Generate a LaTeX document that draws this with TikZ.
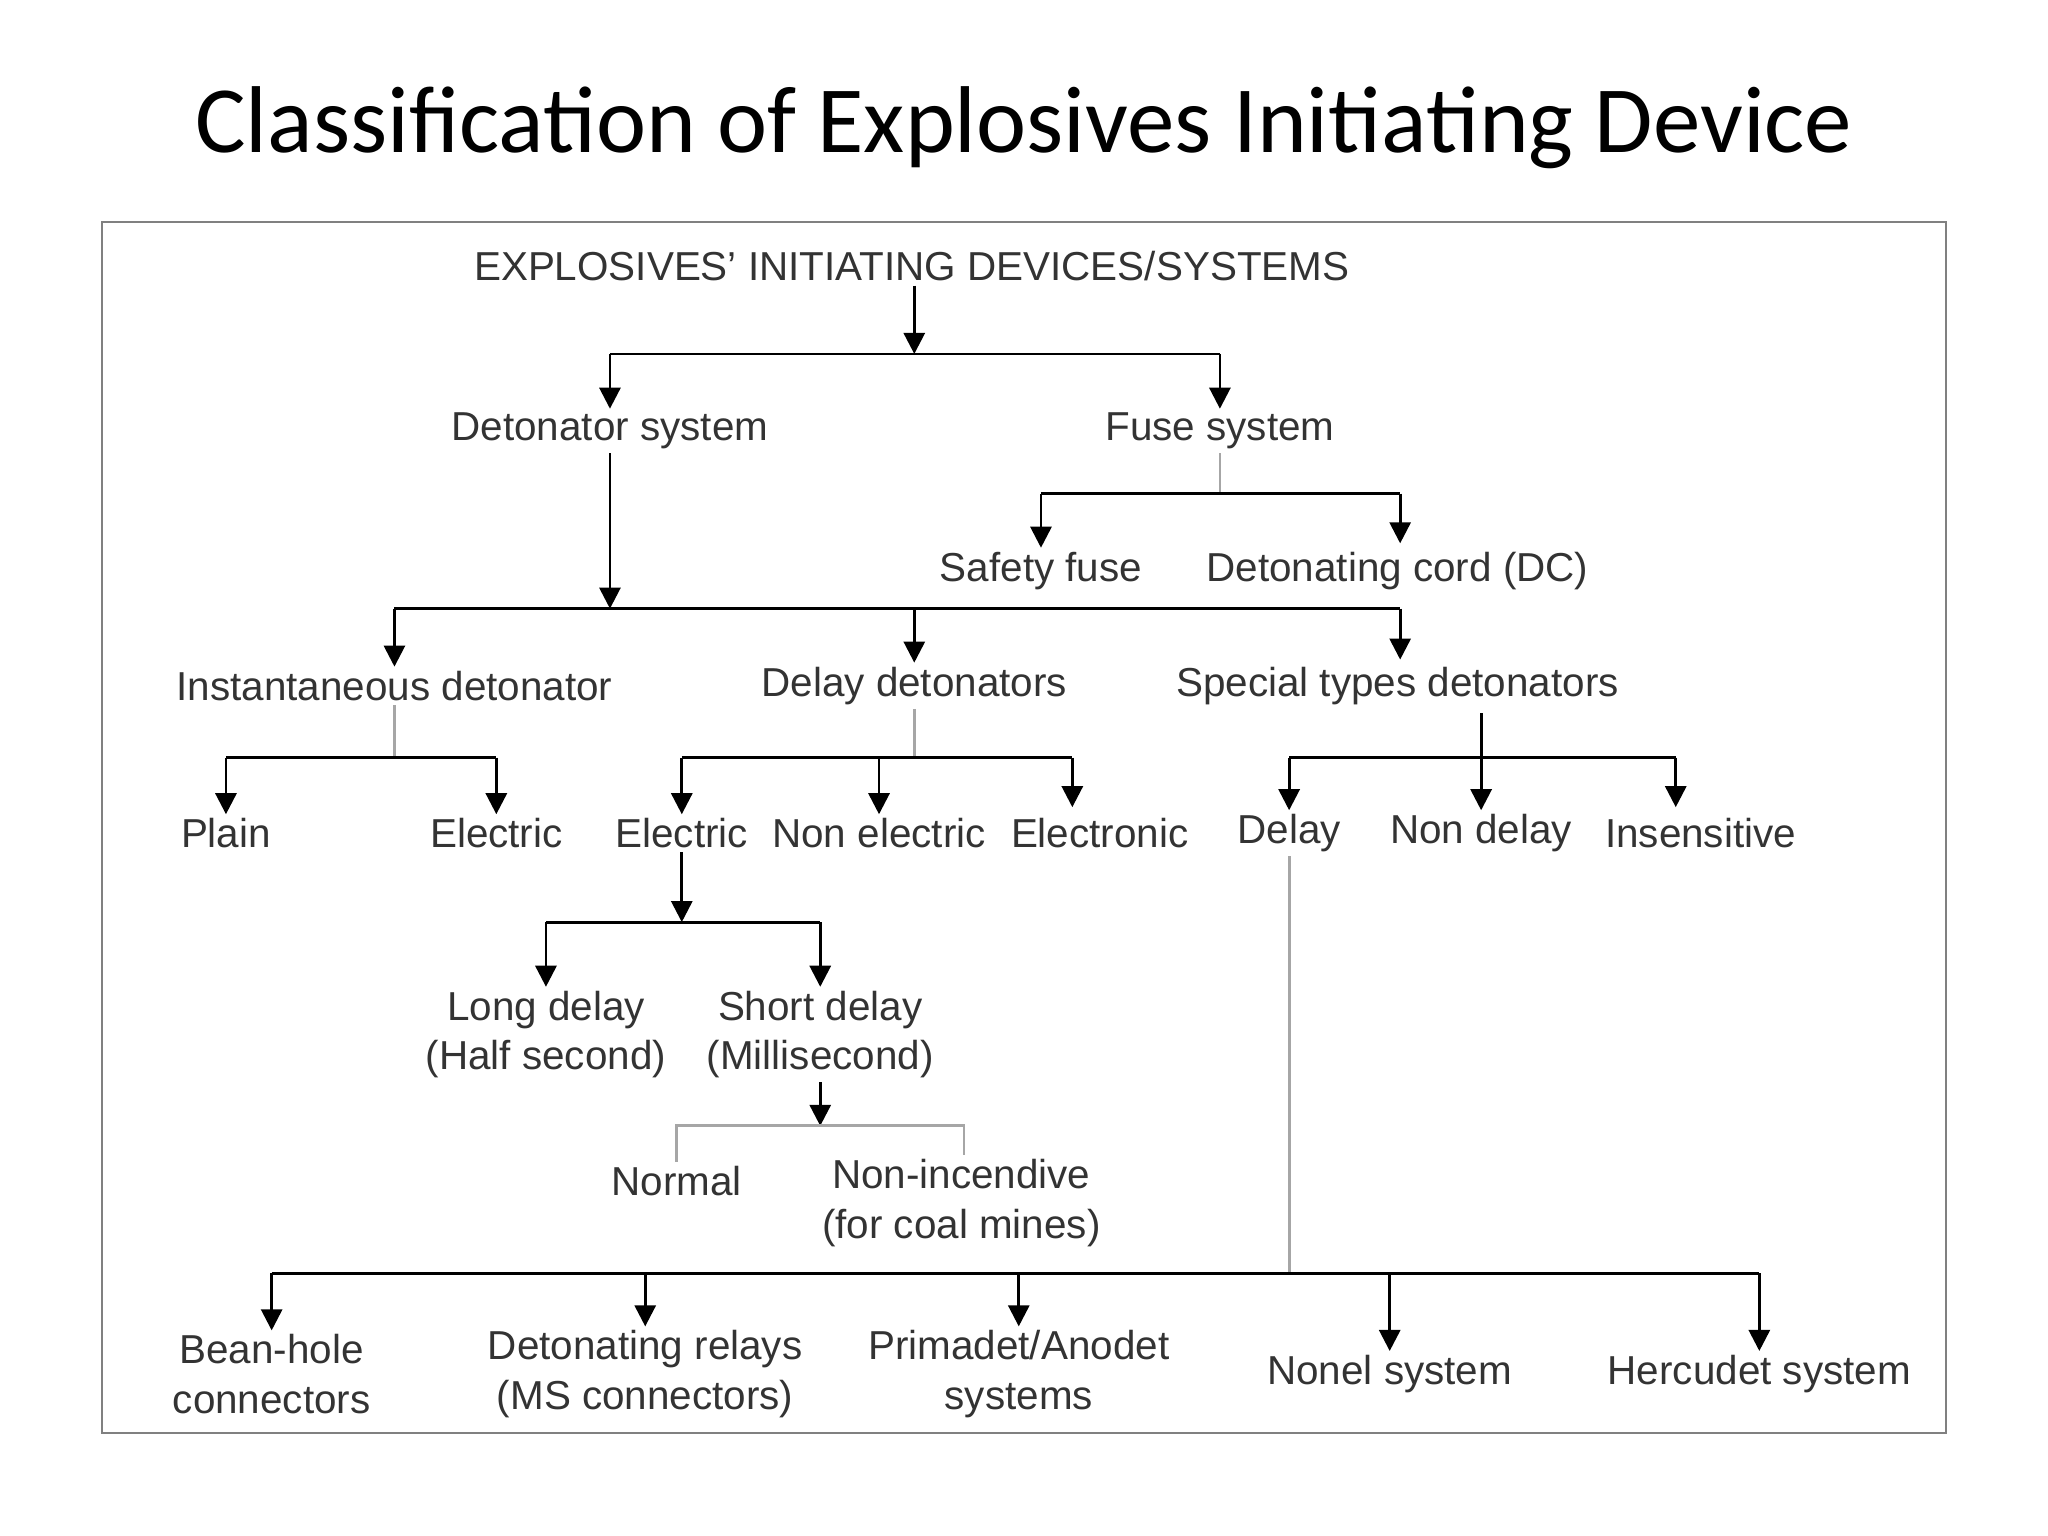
\documentclass[tikz,border=0pt]{standalone}
\usepackage{fontspec}
\setmainfont{Liberation Sans}
\newfontfamily\titlefont{Carlito}
\usetikzlibrary{arrows.meta, positioning}

\begin{document}
\begin{tikzpicture}[
    x=0.01306cm, y=-0.01306cm,
    lbl/.style={font=\fontsize{11.5}{14}\selectfont, text=black!80, align=center, inner sep=1pt},
    arrow/.style={-{Triangle[length=6pt,width=6pt]}, thick},
    link/.style={thick},
    faint/.style={thick, black!35}
]
    \useasboundingbox (0,0) rectangle (1568,1176);
    \node[font=\titlefont\fontsize{27}{30}\selectfont] (title) at (784,98) {Classification of Explosives Initiating Device};
    \draw[black!50] (78,170) rectangle (1490,1097);

    % levels
    \node[lbl] (root) at (698,204) {EXPLOSIVES’ INITIATING DEVICES/SYSTEMS};
    \node[lbl] (det) at (467,330) {Detonator system};
    \node[lbl] (fuse) at (934,330) {Fuse system};
    \node[lbl] (safety) at (797,437) {Safety fuse};
    \node[lbl] (cord) at (1070,437) {Detonating cord (DC)};
    \node[lbl] (inst) at (302,525) {Instantaneous detonator};
    \node[lbl] (delay) at (700,525) {Delay detonators};
    \node[lbl] (special) at (1070,525) {Special types detonators};
    \node[lbl] (plain) at (173,638) {Plain};
    \node[lbl] (ielec) at (380,638) {Electric};
    \node[lbl] (delec) at (522,638) {Electric};
    \node[lbl] (nonelec) at (673,638) {Non electric};
    \node[lbl] (electronic) at (842,638) {Electronic};
    \node[lbl] (sdelay) at (987,638) {Delay};
    \node[lbl] (nondelay) at (1134,638) {Non delay};
    \node[lbl] (insens) at (1302,638) {Insensitive};
    \node[lbl] (long) at (418,792) {Long delay\\(Half second)};
    \node[lbl] (short) at (628,792) {Short delay\\(Millisecond)};
    \node[lbl] (normal) at (518,904) {Normal};
    \node[lbl] (nonincend) at (736,921) {Non-incendive\\(for coal mines)};
    \node[lbl] (bean) at (208,1052) {Bean-hole\\connectors};
    \node[lbl] (relays) at (494,1052) {Detonating relays\\(MS connectors)};
    \node[lbl] (prima) at (780,1052) {Primadet/Anodet\\systems};
    \node[lbl] (nonel) at (1064,1052) {Nonel system};
    \node[lbl] (hercu) at (1347,1052) {Hercudet system};

    % bus points
    \coordinate (busroot) at (700,271);
    \coordinate (busfuse) at (934,378);
    \coordinate (busdet) at (467,466);
    \coordinate (businst) at (302,580);
    \coordinate (busdelay) at (700,580);
    \coordinate (busspec) at (1134,580);
    \coordinate (buselec) at (522,706);
    \coordinate (busshort) at (628,862);
    \coordinate (busbottom) at (987,975);

    \draw[arrow] (root.south -| busroot) -- (busroot);
    \draw[link] (det |- busroot) -- (fuse |- busroot);
    \draw[arrow] (det |- busroot) -- (det.north);
    \draw[arrow] (fuse |- busroot) -- (fuse.north);

    \draw[faint] (fuse.south) -- (busfuse);
    \draw[link] (safety |- busfuse) -- (1072,378);
    \draw[arrow] (safety |- busfuse) -- (safety.north);
    \draw[arrow] (1072,378) -- (1072,416);

    \draw[arrow] (det.south) -- (busdet);
    \draw[link] (inst |- busdet) -- (1072,466);
    \draw[arrow] (inst |- busdet) -- (inst.north);
    \draw[arrow] (delay |- busdet) -- (delay.north);
    \draw[arrow] (1072,466) -- (1072,505);

    \draw[faint] (inst.south) -- (businst);
    \draw[link] (plain |- businst) -- (ielec |- businst);
    \draw[arrow] (plain |- businst) -- (plain.north);
    \draw[arrow] (ielec |- businst) -- (ielec.north);

    \draw[faint] (delay.south) -- (busdelay);
    \draw[link] (delec |- busdelay) -- (821,580);
    \draw[arrow] (delec |- busdelay) -- (delec.north);
    \draw[arrow] (nonelec |- busdelay) -- (nonelec.north);
    \draw[arrow] (821,580) -- (821,618);

    \draw[arrow] (1134,546) -- (nondelay.north);
    \draw[link] (sdelay |- busspec) -- (1283,580);
    \draw[arrow] (sdelay |- busspec) -- (sdelay.north);
    \draw[arrow] (1283,580) -- (1283,618);

    \draw[arrow] (delec.south) -- (buselec);
    \draw[link] (long |- buselec) -- (short |- buselec);
    \draw[arrow] (long |- buselec) -- (long.north);
    \draw[arrow] (short |- buselec) -- (short.north);

    \draw[arrow] (short.south) -- (busshort);
    \draw[faint] (normal.north) -- (normal |- busshort) -- (738,862) -- (738,884);

    \draw[faint] (sdelay.south) -- (busbottom);
    \draw[link] (bean |- busbottom) -- (hercu |- busbottom);
    \foreach \n in {bean, relays, prima, nonel, hercu}
        \draw[arrow] (\n |- busbottom) -- (\n.north);
\end{tikzpicture}
\end{document}
